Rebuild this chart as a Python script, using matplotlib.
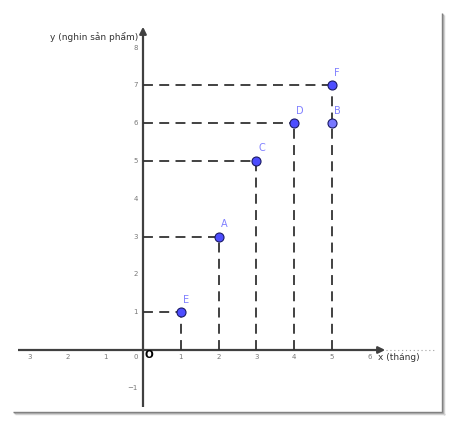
import matplotlib.pyplot as plt

# points
names = ["E", "A", "C", "D", "B", "F"]
xs = [1, 2, 3, 4, 5, 5]
ys = [1, 3, 5, 6, 6, 7]
x_ticks = [-3, -2, -1, 1, 2, 3, 4, 5, 6]
x_tick_labels = ["3", "2", "1", "1", "2", "3", "4", "5", "6"]
y_ticks = [-1, 1, 2, 3, 4, 5, 6, 7, 8]
y_tick_labels = ["\u22121", "1", "2", "3", "4", "5", "6", "7", "8"]

unit = 37.8  # pixels per unit
W, H = 453, 424
ox, oy = 143, 350  # origin in pixels (from top-left)

fig = plt.figure(figsize=(W / 100, H / 100), dpi=100)
ax = fig.add_axes([0, 0, 1, 1])
ax.set_xlim(-ox / unit, (W - ox) / unit)
ax.set_ylim(-(H - oy) / unit, oy / unit)
ax.set_axis_off()

def px(x):
    return (x - ox) / unit

def py(y):
    return (oy - y) / unit

axis_col = "#404040"

# frame shadow (right and bottom)
for k, c in enumerate(["#7a7a7a", "#a0a0a0", "#d0d0d0"]):
    ax.plot([px(442 + k), px(442 + k)], [py(13 + k), py(413 + k)], color=c, lw=1, solid_capstyle="butt")
    ax.plot([px(13 + k), px(443 + k)], [py(412 + k), py(412 + k)], color=c, lw=1, solid_capstyle="butt")

# axes
ax.plot([px(18), px(380)], [0, 0], color=axis_col, lw=1.6, solid_capstyle="butt")
ax.plot([px(386), px(435)], [0, 0], color="#a0a0a0", lw=0.8, ls=(0, (1, 2.5)))
ax.annotate("", xy=(px(388), 0), xytext=(px(375), 0),
            arrowprops=dict(arrowstyle="-|>", color=axis_col, lw=1.6, mutation_scale=10))
ax.plot([0, 0], [py(407), py(35)], color=axis_col, lw=1.6, solid_capstyle="butt")
ax.annotate("", xy=(0, py(24)), xytext=(0, py(38)),
            arrowprops=dict(arrowstyle="-|>", color=axis_col, lw=1.6, mutation_scale=10))

# tick labels
lab_col = "#777777"
for t, lab in zip(x_ticks, x_tick_labels):
    ax.text(t, py(357), lab, fontsize=5, color=lab_col, ha="center", va="center")
ax.text(px(136), py(357), "0", fontsize=5, color=lab_col, ha="center", va="center")
for t, lab in zip(y_ticks, y_tick_labels):
    ax.text(px(138), t, lab, fontsize=5, color=lab_col, ha="right", va="center")
ax.text(px(144), py(355), "O", fontsize=7.5, color="black", ha="left", va="center", fontweight="bold")

ax.text(px(378), py(357), "x (tháng)", fontsize=6.5, color="#333333", ha="left", va="center")
ax.text(px(138), py(37), "y (nghin sản phẩm)", fontsize=6.5, color="#333333", ha="right", va="center")

# dashed guide lines (B's lines are covered by D and F)
dash = dict(color="#333333", lw=1.3, ls=(0, (5.5, 3.5)))
for name, x, y in zip(names, xs, ys):
    if name == "B":
        continue
    ax.plot([0, x], [y, y], **dash)
    ax.plot([x, x], [0, y], **dash)

# points and labels
for name, x, y in zip(names, xs, ys):
    fc = "#7777ff" if name == "B" else "#4d4dff"
    ax.plot(x, y, "o", ms=6.5, mfc=fc, mec="#1a1a66", mew=0.8, zorder=5)
    ax.text(x + 0.05, y + 0.2, name, fontsize=7, color="#8080ff", ha="left", va="bottom")

fig.savefig("out.png", dpi=100)
